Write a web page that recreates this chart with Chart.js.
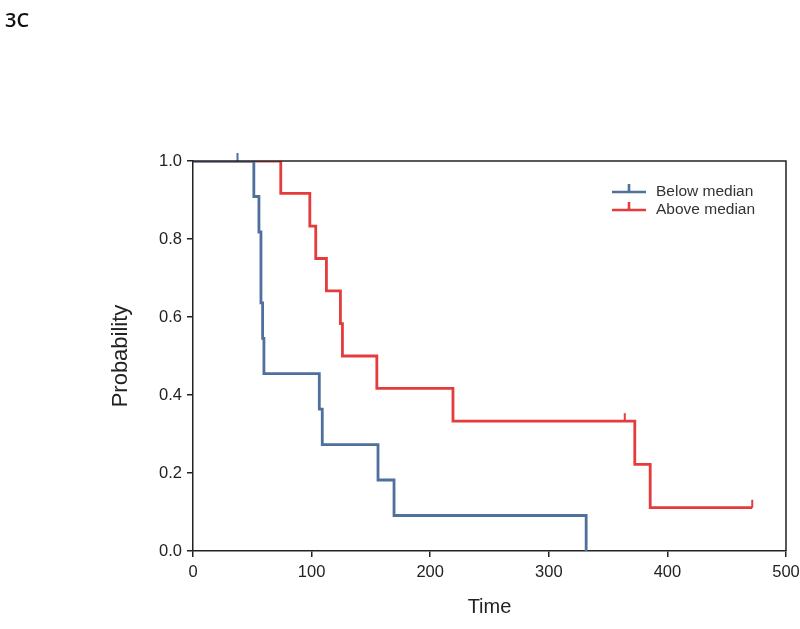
<!DOCTYPE html>
<html>
<head>
<meta charset="utf-8">
<script src="https://cdn.jsdelivr.net/npm/chart.js@4/dist/chart.umd.min.js"></script>
<style>
  html, body { margin: 0; padding: 0; background: #fff; }
  #wrap { position: relative; width: 800px; height: 629px; }
  #panel { position: absolute; left: 5px; top: 6px; font: 600 20px 'Open Sans', sans-serif; color: #111; }
  canvas { position: absolute; left: 0; top: 0; }
</style>
</head>
<body>
<div id="wrap">
  <canvas id="kmChart" width="800" height="629"></canvas>
  <div id="panel">3C</div>
</div>
<script>
/* Kaplan-Meier curves, panel 3C */

const BLUE = '#4f6f9d';
const RED = '#e63b3d';

const seriesNames = ['Below median', 'Above median'];

// below median group
const belowTimes = [0, 51.3, 55.6, 57.3, 58.7, 59.8, 106.5, 109, 156, 169.5, 331.5];
const belowSurv = [1, 0.909, 0.818, 0.636, 0.545, 0.455, 0.364, 0.273, 0.182, 0.091, 0];
const belowCensorTimes = [37.5];
const belowCensorSurv = [1];

// above median group
const aboveTimes = [0, 74, 98.5, 103.5, 112.5, 124.3, 126, 155, 219.2, 372.5, 385.5, 471.5];
const aboveSurv = [1, 0.917, 0.833, 0.75, 0.667, 0.583, 0.5, 0.417, 0.333, 0.222, 0.111, 0.111];
const aboveCensorTimes = [364, 471.5];
const aboveCensorSurv = [0.333, 0.111];

const xTicks = [0, 100, 200, 300, 400, 500];
const yTicks = [0, 0.2, 0.4, 0.6, 0.8, 1.0];

const toPoints = (xs, ys) => xs.map((x, i) => ({ x: x, y: ys[i] }));

// censor mark: short vertical tick rising from the curve
function censorMark(color) {
  const c = document.createElement('canvas');
  c.width = 4; c.height = 18;
  const g = c.getContext('2d');
  g.fillStyle = color;
  g.fillRect(1, 1, 2, 8);
  return c;
}

const frameAndLegend = {
  id: 'frameAndLegend',
  afterDraw(chart) {
    const { ctx, chartArea: a } = chart;
    ctx.save();
    ctx.strokeStyle = '#222';
    ctx.lineWidth = 1.5;
    ctx.beginPath();
    ctx.moveTo(a.left, a.top);
    ctx.lineTo(a.right, a.top);
    ctx.lineTo(a.right, a.bottom);
    ctx.stroke();

    const colors = [BLUE, RED];
    ctx.font = '15.5px "Liberation Sans", Arial, sans-serif';
    ctx.textBaseline = 'middle';
    seriesNames.forEach((name, i) => {
      const y = 192 + i * 18;
      const x0 = 612;
      ctx.strokeStyle = colors[i];
      ctx.lineWidth = 2.6;
      ctx.beginPath();
      ctx.moveTo(x0, y);
      ctx.lineTo(x0 + 34, y);
      ctx.moveTo(x0 + 17, y);
      ctx.lineTo(x0 + 17, y - 8);
      ctx.stroke();
      ctx.fillStyle = '#333';
      ctx.fillText(name, x0 + 44, y);
    });
    ctx.restore();
  },
};

const axisFont = { family: '"Liberation Sans", Arial, sans-serif', size: 16.5 };

new Chart(document.getElementById('kmChart'), {
  type: 'line',
  data: {
    datasets: [
      {
        label: seriesNames[0],
        data: toPoints(belowTimes, belowSurv),
        borderColor: BLUE,
        borderWidth: 2.8,
        stepped: 'before',
        pointRadius: 0,
        fill: false,
      },
      {
        label: seriesNames[1],
        data: toPoints(aboveTimes, aboveSurv),
        borderColor: RED,
        borderWidth: 2.8,
        stepped: 'before',
        pointRadius: 0,
        fill: false,
      },
      {
        type: 'scatter',
        data: toPoints(belowCensorTimes, belowCensorSurv),
        pointStyle: censorMark(BLUE),
        clip: false,
      },
      {
        type: 'scatter',
        data: toPoints(aboveCensorTimes, aboveCensorSurv),
        pointStyle: censorMark(RED),
        clip: false,
      },
    ],
  },
  options: {
    responsive: false,
    animation: false,
    layout: { padding: { left: 0, top: 161, right: 14, bottom: 0 } },
    plugins: { legend: { display: false }, tooltip: { enabled: false } },
    scales: {
      x: {
        type: 'linear',
        min: 0,
        max: 500,
        afterBuildTicks: (s) => { s.ticks = xTicks.map(v => ({ value: v })); },
        afterFit: (s) => { s.height = 78; s.paddingLeft = 0; s.paddingRight = 0; },
        grid: { drawOnChartArea: false, drawTicks: true, tickLength: 6, color: '#222', lineWidth: 1.5 },
        border: { display: true, color: '#222', width: 1.5 },
        ticks: { color: '#222', font: axisFont, padding: 6, maxRotation: 0 },
        title: { display: true, text: 'Time', color: '#222', font: { family: axisFont.family, size: 20 }, padding: { top: 0, bottom: 10 } },
      },
      y: {
        min: 0,
        max: 1,
        afterBuildTicks: (s) => { s.ticks = yTicks.map(v => ({ value: v })); },
        afterFit: (s) => { s.width = 193; s.paddingTop = 0; s.paddingBottom = 0; },
        grid: { drawOnChartArea: false, drawTicks: true, tickLength: 6, color: '#222', lineWidth: 1.5 },
        border: { display: true, color: '#222', width: 1.5 },
        ticks: { color: '#222', font: axisFont, padding: 5, callback: (v) => v.toFixed(1) },
        title: { display: true, text: 'Probability', color: '#222', font: { family: axisFont.family, size: 22 }, padding: { top: 108, bottom: 0 } },
      },
    },
  },
  plugins: [frameAndLegend],
});
</script>
</body>
</html>
